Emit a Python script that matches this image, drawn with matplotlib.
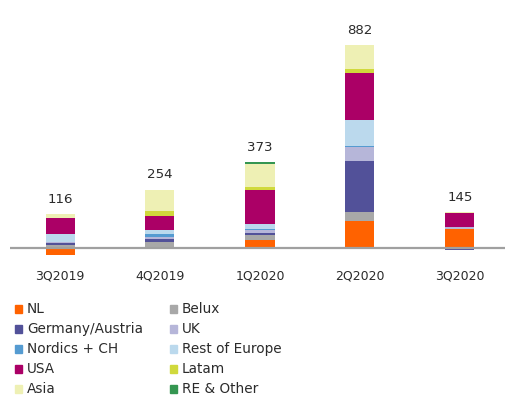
import numpy as np
import matplotlib.pyplot as plt
from matplotlib.patches import Rectangle

quarters = ['3Q2019', '4Q2019', '1Q2020', '2Q2020', '3Q2020']

# contribution per region, in stacking order (bottom to top)
nl = [-30, 0, 37, 117, 83]
belux = [13, 26, 19, 39, -5]
germany_austria = [10, 12, 10, 222, -5]
uk = [3, 10, 14, 62, 7]
nordics_ch = [0, 12, 2, 6, 0]
rest_of_europe = [36, 17, 22, 113, 0]
usa = [70, 62, 148, 203, 61]
latam = [0, 24, 13, 17, 0]
asia = [14, 91, 99, 103, 4]
re_other = [0, 0, 9, 0, 0]

series = [
    ('NL', nl, '#FF6200'),
    ('Belux', belux, '#A8A8A8'),
    ('Germany/Austria', germany_austria, '#525199'),
    ('UK', uk, '#B6B6D9'),
    ('Nordics + CH', nordics_ch, '#559BD1'),
    ('Rest of Europe', rest_of_europe, '#BBD9ED'),
    ('USA', usa, '#AB0066'),
    ('Latam', latam, '#D0D93C'),
    ('Asia', asia, '#EEF0B4'),
    ('RE & Other', re_other, '#349651'),
]

W, H = 506, 397
fig = plt.figure(figsize=(W / 100, H / 100), dpi=100)
ax = fig.add_axes([10 / W, (H - 260) / H, 495 / W, 240 / H])

x = np.arange(len(quarters))
pos_base = np.zeros(len(quarters))
neg_base = np.zeros(len(quarters))
for name, vals, color in series:
    vals = np.array(vals, dtype=float)
    bottom = np.where(vals >= 0, pos_base, neg_base)
    ax.bar(x, vals, width=0.29, bottom=bottom, color=color, linewidth=0, zorder=2)
    pos_base += np.clip(vals, 0, None)
    neg_base += np.clip(vals, None, 0)

# net total above each column
totals = pos_base + neg_base
for xi, top, tot in zip(x, pos_base, totals):
    ax.annotate(f'{tot:.0f}', (xi, top), xytext=(0, 6), textcoords='offset points',
                ha='center', va='bottom', fontsize=9.6, color='#2b2b2b')

ax.axhline(0, color='#A0A0A0', lw=1.6, zorder=3)
ax.set_xlim(-0.5, 4.45)
ax.set_ylim(-52, 992)
ax.set_yticks([])
ax.set_xticks(x)
ax.set_xticklabels(quarters, fontsize=9, color='#2b2b2b')
ax.tick_params(axis='x', length=0, pad=6.5)
for s in ax.spines.values():
    s.set_visible(False)

# legend, two columns
col1 = ['NL', 'Germany/Austria', 'Nordics + CH', 'USA', 'Asia']
col2 = ['Belux', 'UK', 'Rest of Europe', 'Latam', 'RE & Other']
colors = {name: color for name, _, color in series}
for cx, names in [(15, col1), (170, col2)]:
    for i, name in enumerate(names):
        cy = 309 + 20 * i
        fig.patches.append(Rectangle((cx / W, (H - cy - 4) / H), 7 / W, 8 / H,
                                     transform=fig.transFigure, color=colors[name]))
        fig.text((cx + 12) / W, (H - cy) / H, name, fontsize=9.8, color='#2b2b2b',
                 va='center', ha='left')

fig.savefig('out.png', dpi=100)
